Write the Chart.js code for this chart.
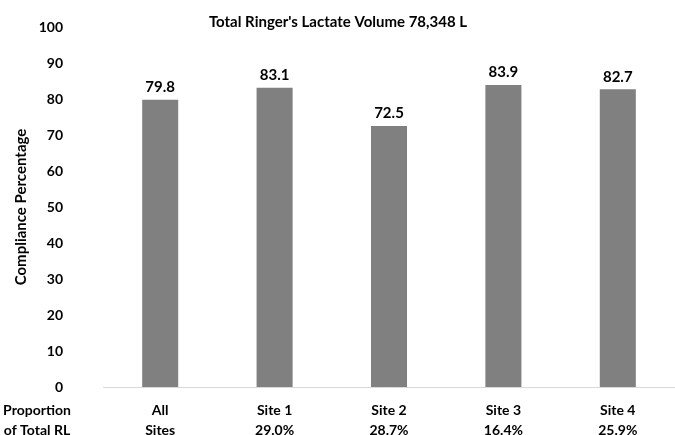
<!DOCTYPE html>
<html>
<head>
<meta charset="utf-8">
<script src="https://cdn.jsdelivr.net/npm/chart.js@4.4.1/dist/chart.umd.min.js"></script>
<style>
  body { margin: 0; background: #fff; }
  #wrap { width: 675px; height: 435px; }
</style>
</head>
<body>
<div id="wrap"><canvas id="chart"></canvas></div>
<script>
var sites = ["All Sites", "Site 1", "Site 2", "Site 3", "Site 4"];
var proportions = ["", "29.0%", "28.7%", "16.4%", "25.9%"];
var compliance = [79.8, 83.1, 72.5, 83.9, 82.7];
var chartTitle = "Total Ringer's Lactate Volume 78,348 L";

// x labels as two lines: name on top, share of total underneath
var labels = sites.map(function(s, i) {
    if (s === "All Sites") return ["All", "Sites"];
    return [s, proportions[i]];
});

var FONT = "Lato, 'Open Sans', sans-serif";

// draws values above bars, the title and the "Proportion of Total RL" row label
var extras = {
    id: 'extras',
    afterDatasetsDraw: function(chart) {
        var ctx = chart.ctx;
        var meta = chart.getDatasetMeta(0);
        ctx.save();
        ctx.fillStyle = '#000';
        ctx.font = 'bold 15px ' + FONT;
        ctx.textAlign = 'center';
        ctx.textBaseline = 'bottom';
        meta.data.forEach(function(bar, i) {
            ctx.fillText(compliance[i].toFixed(1), bar.x, bar.y - 5);
        });

        ctx.font = 'bold 15px ' + FONT;
        ctx.textBaseline = 'middle';
        ctx.fillText(chartTitle, 338, 22);

        var xs = chart.scales.x;
        ctx.font = 'bold 14px ' + FONT;
        var y0 = xs.top + 23;
        ctx.fillText("Proportion", 37, y0);
        ctx.fillText("of Total RL", 37, y0 + 20);
        ctx.restore();
    }
};

new Chart(document.getElementById('chart'), {
    type: 'bar',
    data: {
        labels: labels,
        datasets: [{
            data: compliance,
            backgroundColor: '#808080',
            categoryPercentage: 1,
            barPercentage: 0.315
        }]
    },
    options: {
        responsive: true,
        maintainAspectRatio: false,
        animation: false,
        layout: { padding: { top: 27, right: 0, left: 0, bottom: 0 } },
        plugins: {
            legend: { display: false },
            tooltip: { enabled: false }
        },
        scales: {
            x: {
                grid: { display: false, drawTicks: false },
                border: { color: '#d9d9d9', width: 1 },
                ticks: {
                    color: '#000',
                    padding: 13,
                    maxRotation: 0,
                    font: { family: FONT, size: 14, weight: 'bold', lineHeight: 1.43 }
                },
                afterFit: function(scale) {
                    scale.height = 48;
                    scale.paddingLeft = 0;
                    scale.paddingRight = 0;
                }
            },
            y: {
                min: 0,
                max: 100,
                grid: { display: false, drawTicks: false },
                border: { display: false },
                ticks: {
                    stepSize: 10,
                    color: '#000',
                    padding: 40,
                    font: { family: FONT, size: 14, weight: 'bold' }
                },
                title: {
                    display: true,
                    text: 'Compliance Percentage',
                    color: '#000',
                    padding: { top: 12, bottom: 0 },
                    font: { family: FONT, size: 15, weight: 'bold' }
                },
                afterFit: function(scale) {
                    scale.width = 103;
                    scale.paddingTop = 0;
                    scale.paddingBottom = 0;
                }
            }
        }
    },
    plugins: [extras]
});
</script>
</body>
</html>
